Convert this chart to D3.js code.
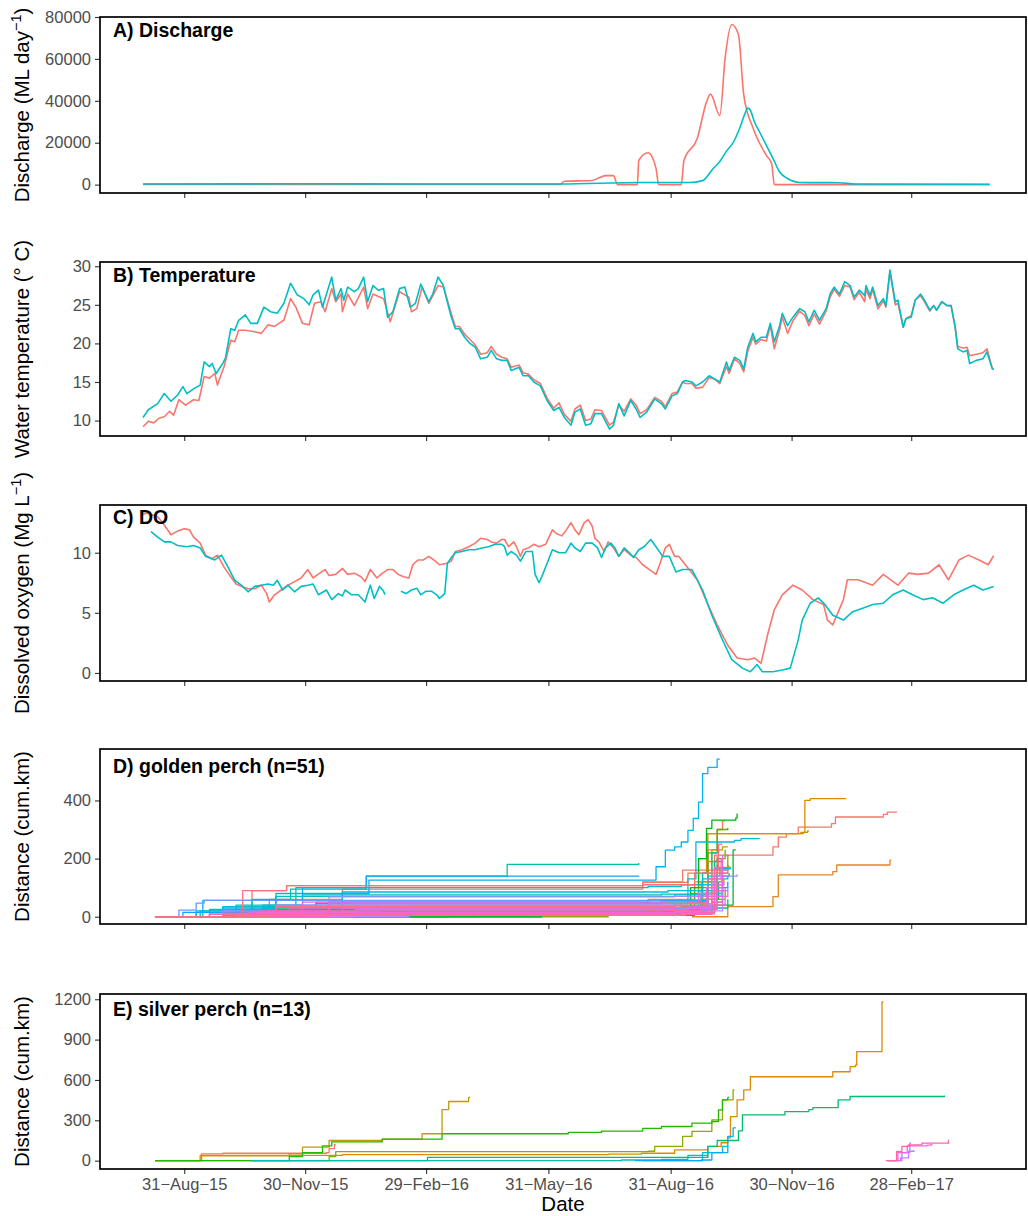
<!DOCTYPE html>
<html lang="en">
<head>
<meta charset="UTF-8">
<title>Discharge, temperature, DO and fish movement</title>
<script src="https://d3js.org/d3.v7.min.js"></script>
<style>
  body { margin: 0; background: #fff; font-family: "Liberation Sans", Arial, sans-serif; }
</style>
</head>
<body>
<div id="chart"></div>
<script>
// x values are days since 31 Jul 2015
const day0 = new Date(2015, 6, 31);

const xTickDates = ["2015-08-31", "2015-11-30", "2016-02-29", "2016-05-31", "2016-08-31", "2016-11-30", "2017-02-28"];

// A) discharge, two gauges
const discharge1 = [[0,100],[314,100],[317,1600],[338,2000],[344,3500],[348,4300],[354,4300],[357,0],[372,0],[373,11500],[380,15200],[386,7700],[388,0],[405,0],[407,11500],[417,22000],[424,39500],[427,43200],[434,33000],[438,60500],[443,76400],[448,71600],[452,42800],[459,27000],[469,14000],[473,10000],[475,0],[637,0]];
const discharge2 = [[0,300],[118,400],[208,300],[314,300],[374,1000],[411,1000],[421,1900],[429,7700],[434,11000],[439,16000],[444,20000],[449,27000],[453,34000],[455,36500],[457,35500],[460,30000],[464,25000],[468,20000],[474,12500],[479,6000],[485,2900],[494,1000],[524,900],[536,300],[637,200]];

// B) water temperature
const temp1 = [[0,9.2],[4,9.9],[8,9.7],[12,10.3],[16,10.5],[20,11.2],[23,10.7],[27,12.7],[32,12.0],[38,12.7],[42,12.6],[46,15.7],[50,15.5],[54,16.1],[56,14.6],[61,17.0],[66,20.4],[69,20.2],[72,21.7],[77,21.7],[84,21.5],[89,21.3],[94,22.4],[99,22.2],[104,22.8],[106,23.0],[111,25.8],[115,24.7],[120,22.6],[125,22.4],[129,25.2],[134,25.4],[137,24.1],[142,27.1],[145,25.4],[149,26.4],[150,24.1],[154,26.4],[159,24.9],[166,27.3],[169,24.5],[173,26.4],[181,25.8],[186,22.8],[193,26.7],[200,26.0],[202,24.1],[206,24.5],[210,27.3],[215,25.2],[222,27.5],[226,27.3],[228,26.2],[232,23.8],[235,22.2],[238,22.2],[242,21.2],[246,20.5],[250,19.8],[254,18.6],[259,18.8],[262,19.6],[266,18.6],[270,18.2],[274,18.0],[277,16.9],[283,17.2],[286,16.2],[290,16.0],[294,15.3],[299,14.8],[304,12.9],[309,11.6],[313,12.3],[317,10.8],[322,9.9],[325,11.5],[329,12.0],[333,10.0],[337,10.2],[340,11.4],[345,11.3],[351,9.4],[354,9.8],[358,12.0],[362,11.2],[367,12.8],[371,12.0],[374,10.9],[379,11.4],[385,13.0],[390,12.5],[393,11.8],[398,13.5],[402,13.7],[406,15.0],[408,14.8],[413,14.8],[416,14.2],[421,14.3],[426,15.6],[430,15.4],[434,14.8],[439,17.0],[441,16.1],[445,18.0],[449,17.4],[452,16.3],[455,19.0],[459,20.8],[461,19.9],[465,20.5],[469,20.3],[472,22.3],[475,19.3],[479,21.8],[481,23.4],[485,21.3],[489,22.9],[494,24.2],[498,23.6],[501,22.3],[505,23.8],[509,22.5],[514,24.2],[517,26.0],[520,27.0],[524,26.1],[528,27.5],[532,27.3],[535,25.7],[539,26.6],[543,25.4],[544,27.0],[547,25.8],[549,27.0],[553,24.5],[557,25.5],[559,24.7],[562,29.3],[566,25.0],[568,25.2],[572,22.1],[574,23.2],[578,23.6],[581,25.6],[585,26.2],[588,25.4],[592,24.2],[595,24.9],[597,24.3],[601,25.4],[605,24.9],[608,24.9],[611,22.3],[613,19.6],[617,19.4],[620,19.5],[622,18.4],[627,18.6],[632,18.8],[635,19.3],[639,16.8],[640,16.6]];
const temp2 = [[0,10.4],[4,11.4],[11,12.2],[16,13.5],[21,12.5],[26,13.3],[30,14.4],[33,13.5],[38,14.1],[43,14.6],[46,17.6],[50,17.0],[52,17.4],[55,16.1],[60,17.4],[62,18.1],[66,21.9],[69,21.7],[72,23.0],[77,23.7],[81,22.6],[86,22.6],[91,24.7],[96,24.1],[101,23.9],[106,25.2],[111,27.8],[116,26.3],[121,25.8],[125,25.0],[128,26.3],[132,26.9],[135,24.7],[142,28.6],[145,25.6],[149,27.1],[151,25.6],[154,27.3],[159,26.7],[162,27.1],[166,28.6],[169,25.4],[173,27.5],[177,26.9],[181,27.1],[184,23.4],[188,24.1],[193,27.1],[197,27.3],[201,24.7],[205,25.2],[209,27.7],[215,25.4],[218,26.4],[222,28.6],[226,27.5],[228,26.0],[232,23.4],[235,21.9],[238,21.9],[242,20.8],[246,20.0],[250,19.5],[254,18.0],[259,18.2],[262,19.1],[266,18.0],[270,17.8],[274,17.8],[277,16.5],[283,16.9],[286,15.8],[290,15.8],[294,15.0],[299,14.5],[304,12.6],[309,11.3],[313,11.7],[317,10.4],[322,9.4],[325,11.1],[329,11.5],[333,9.4],[337,9.6],[340,10.9],[345,10.9],[351,8.9],[354,9.4],[358,12.2],[362,10.6],[367,12.6],[371,11.5],[374,10.4],[379,11.1],[385,12.8],[390,12.2],[393,11.5],[398,13.2],[402,13.5],[406,15.0],[408,15.2],[413,15.0],[416,14.5],[421,15.0],[426,15.8],[430,15.4],[434,15.0],[439,17.6],[441,16.5],[445,18.2],[449,17.8],[452,16.7],[455,19.5],[459,21.3],[461,20.2],[465,20.8],[469,20.8],[472,22.6],[475,20.2],[479,22.3],[481,23.9],[485,22.3],[489,23.4],[494,24.5],[498,24.1],[501,22.8],[505,24.3],[509,23.0],[514,24.5],[517,26.4],[520,27.3],[524,26.4],[528,28.0],[532,27.5],[535,26.0],[539,26.9],[543,26.2],[544,27.5],[547,26.2],[549,27.3],[553,24.9],[557,25.8],[559,24.9],[562,29.5],[566,25.4],[568,25.6],[572,22.1],[574,23.2],[578,23.4],[581,25.6],[585,26.4],[588,25.6],[592,24.3],[595,24.9],[597,24.3],[601,25.4],[605,24.9],[608,24.9],[611,22.1],[613,19.3],[617,18.9],[620,19.1],[622,17.4],[627,17.8],[632,18.0],[635,18.9],[639,16.7],[640,16.6]];

// C) dissolved oxygen (null = logger gap)
const do1 = [[0,13.2],[3,13.3],[11,13.0],[16,12.3],[21,11.5],[26,11.8],[31,12.0],[35,11.9],[38,11.3],[43,10.8],[47,9.8],[52,9.5],[56,9.8],[61,8.8],[66,8.0],[70,7.4],[74,7.2],[79,7.0],[84,7.0],[89,7.3],[93,6.6],[95,5.9],[99,6.5],[104,6.9],[109,7.3],[114,7.6],[119,7.9],[124,8.6],[128,7.9],[133,8.3],[137,8.6],[140,8.1],[145,8.2],[150,8.7],[154,8.2],[159,8.3],[164,8.0],[167,7.6],[171,8.6],[176,7.9],[179,8.2],[184,8.6],[188,8.6],[192,8.2],[196,8.0],[200,7.9],[203,9.0],[207,9.4],[211,9.4],[215,9.7],[220,9.3],[223,9.0],[228,9.1],[232,9.3],[235,10.1],[240,10.25],[245,10.5],[250,10.8],[254,11.2],[259,11.1],[262,10.9],[266,10.8],[270,11.1],[272,11.1],[275,10.5],[279,10.9],[281,10.5],[284,9.7],[286,10.25],[290,10.4],[294,10.7],[298,10.5],[303,10.7],[308,11.9],[311,11.6],[315,11.4],[318,11.8],[322,12.5],[325,11.9],[328,11.5],[332,12.5],[335,12.75],[338,12.2],[340,11.2],[343,10.9],[347,10.1],[350,10.9],[354,10.4],[358,9.7],[362,10.25],[367,9.8],[371,9.6],[376,9.0],[381,8.6],[386,8.2],[389,9.1],[393,10.4],[396,10.7],[400,9.7],[403,9.7],[406,9.3],[417,7.75],[425,5.7],[432,4.0],[440,2.3],[447,1.25],[455,1.1],[460,1.25],[465,0.8],[470,3.2],[475,5.25],[481,6.5],[489,7.3],[496,6.9],[504,6.1],[512,5.7],[515,4.4],[519,4.0],[527,6.1],[530,7.75],[538,7.75],[549,7.3],[557,8.2],[568,7.3],[576,8.3],[583,8.2],[591,8.3],[599,9.0],[606,7.75],[614,9.4],[621,9.8],[629,9.4],[636,9.0],[640,9.75]];
const do2 = [[6,11.75],[11,11.3],[16,10.9],[21,10.9],[26,10.6],[33,10.5],[38,10.6],[43,10.4],[47,9.7],[54,9.4],[59,9.8],[64,8.8],[69,7.7],[74,7.3],[79,6.75],[84,7.2],[89,7.3],[94,7.4],[98,7.3],[101,7.7],[105,6.9],[109,7.3],[114,6.75],[119,7.2],[124,7.3],[128,7.4],[132,6.5],[138,6.9],[142,6.1],[147,6.6],[150,6.4],[152,6.9],[157,6.5],[162,6.5],[167,5.9],[171,7.3],[174,6.2],[178,7.2],[181,6.8],[182,6.5],[188,null],[194,6.8],[198,6.6],[202,6.9],[206,7.05],[209,6.5],[213,6.8],[217,6.8],[221,6.5],[223,6.2],[227,6.6],[229,9.1],[232,9.6],[235,10.0],[240,10.1],[245,10.25],[250,10.25],[255,10.4],[260,10.5],[265,10.7],[270,10.7],[272,10.5],[274,9.8],[277,10.1],[281,9.8],[284,9.3],[288,10.1],[293,10.1],[295,8.2],[298,7.5],[300,8.0],[304,9.1],[308,10.25],[313,10.0],[318,10.0],[322,10.8],[325,10.4],[329,10.1],[333,10.8],[338,10.8],[342,10.4],[345,9.6],[348,10.4],[352,10.8],[355,10.4],[358,9.7],[362,10.4],[366,10.0],[369,9.6],[373,10.25],[377,10.5],[382,11.1],[386,10.5],[391,9.7],[396,9.7],[401,8.4],[406,8.6],[413,8.6],[421,6.9],[428,4.8],[436,2.75],[443,1.1],[451,0.4],[457,0.1],[462,0.7],[466,0.1],[474,0.1],[481,0.25],[487,0.4],[493,2.75],[496,4.4],[502,5.8],[508,6.25],[513,5.7],[519,4.8],[527,4.4],[534,5.1],[542,5.4],[549,5.7],[557,5.8],[564,6.5],[572,6.9],[579,6.5],[587,6.1],[594,6.25],[602,5.8],[610,6.5],[617,6.9],[625,7.3],[632,6.9],[640,7.2]];

// D) golden perch, cumulative km per fish (step after)
const goldenTracks = [
  [[9,0],[82,90],[108,107],[376,120],[406,160],[430,212],[474,240],[478,274],[484,286],[493,308],[518,320],[521,343],[557,352],[560,360],[567,361]],
  [[9,0],[40,15],[95,60],[150,95],[376,118],[410,150],[425,230],[432,300],[436,330],[438,330]],
  [[9,0],[70,20],[130,50],[380,60],[415,120],[425,190],[432,210]],
  [[413,0],[436,0],[440,35],[474,69],[478,144],[519,155],[522,178],[562,195],[563,195]],
  [[9,0],[60,5],[200,12],[405,15],[412,80],[418,200],[425,286],[497,290],[498,400],[502,406],[529,406]],
  [[9,0],[100,10],[380,20],[420,60],[432,150],[440,180]],
  [[9,0],[150,8],[418,20],[421,150],[424,286],[495,290],[500,295],[501,295]],
  [[9,0],[110,30],[400,40],[425,90],[436,170],[441,175]],
  [[9,0],[200,5],[413,10],[420,120],[428,230],[436,240],[440,240]],
  [[20,0],[300,15],[415,30],[430,110],[437,130]],
  [[9,0],[250,25],[405,35],[421,80],[430,120],[435,125]],
  [[9,0],[350,8],[410,20],[428,60],[438,90]],
  [[9,0],[180,18],[420,25],[432,160],[440,210],[441,210]],
  [[9,0],[150,12],[418,15],[428,50],[436,90]],
  [[9,0],[230,6],[400,8],[420,40],[432,200],[438,230]],
  [[9,0],[120,20],[405,22],[415,100],[425,220],[432,300],[440,305]],
  [[9,0],[60,10],[405,15],[412,100],[418,200],[424,304],[428,332],[446,340],[447,355]],
  [[9,0],[300,5],[415,10],[428,40],[444,230],[446,230]],
  [[9,0],[160,15],[410,20],[425,80],[436,140],[441,150]],
  [[9,0],[90,30],[400,32],[420,60],[433,120]],
  [[9,0],[200,10],[410,12],[428,30],[440,60]],
  [[9,0],[80,25],[395,30],[418,90],[430,190],[436,200]],
  [[9,0],[130,45],[390,50],[425,120],[432,180]],
  [[9,0],[43,20],[82,60],[111,95],[168,140],[274,180],[373,185]],
  [[9,0],[70,40],[120,75],[390,78],[421,150],[428,220],[433,230]],
  [[9,0],[50,25],[100,70],[400,75],[425,140],[434,160]],
  [[9,0],[60,35],[115,100],[380,104],[405,110],[430,165],[442,170]],
  [[9,0],[90,40],[400,45],[410,130],[416,257],[445,263],[450,269],[464,269]],
  [[9,0],[40,20],[150,85],[395,90],[421,130],[440,140]],
  [[9,0],[80,20],[380,25],[420,70],[436,110]],
  [[9,0],[60,30],[100,80],[170,126],[383,126],[386,172],[393,229],[400,240],[405,257],[410,297],[414,338],[418,394],[421,492],[425,514],[432,542],[434,542]],
  [[9,0],[45,56],[120,100],[168,140],[373,142]],
  [[9,0],[30,15],[140,50],[390,55],[425,100],[440,120]],
  [[9,0],[100,10],[400,14],[430,70],[436,80]],
  [[9,0],[27,23],[40,47],[46,56],[390,58],[420,80],[436,100]],
  [[9,0],[150,30],[410,35],[432,90],[440,100]],
  [[9,0],[60,20],[140,68],[400,70],[430,140],[447,145]],
  [[9,0],[200,15],[415,20],[436,160],[440,165]],
  [[9,0],[100,40],[405,45],[428,120],[436,135]],
  [[9,0],[50,10],[390,12],[425,40],[438,60]],
  [[9,0],[160,25],[410,28],[432,110],[437,120]],
  [[9,0],[80,15],[400,18],[425,70],[440,90]],
  [[9,0],[120,50],[395,52],[418,80],[430,170],[436,175]],
  [[9,0],[70,5],[408,8],[428,50],[436,60]],
  [[9,0],[110,30],[400,33],[424,100],[436,210],[440,215]],
  [[9,0],[60,12],[405,15],[430,90],[438,100]],
  [[9,0],[140,45],[410,48],[425,130],[435,200]],
  [[9,0],[90,20],[390,22],[420,60],[432,150],[440,155]],
  [[9,0],[50,8],[412,10],[430,40],[437,45]],
  [[9,0],[100,35],[400,38],[428,160],[433,250],[436,250]],
  [[9,0],[75,90],[108,107],[376,110],[415,150],[432,170]]
];

// E) silver perch
const silverTracks = [
  [[9,0],[44,50],[60,55],[138,60],[140,90],[144,120],[145,120]],
  [[9,0],[43,40],[150,45],[350,48],[375,55],[400,80],[425,106],[435,133],[440,170],[442,328],[446,328],[447,452],[451,452],[452,526],[455,526],[457,624],[516,624],[519,661],[530,661],[532,699],[536,710],[537,810],[555,810],[556,1180],[557,1180]],
  [[9,0],[44,35],[110,50],[120,100],[140,150],[180,160],[210,200],[225,380],[230,440],[245,470],[246,470]],
  [[9,0],[140,30],[145,67],[380,70],[385,106],[406,180],[413,217],[428,303],[436,452],[444,526],[445,526]],
  [[9,0],[110,30],[120,60],[135,110],[142,140],[180,160],[225,200],[320,210],[345,220],[376,240],[390,254],[413,279],[428,291],[433,378],[436,452],[440,470],[441,470]],
  [[82,0],[213,0],[214,24],[400,24],[425,106],[432,150],[448,222],[451,340],[483,365],[501,380],[504,395],[521,395],[523,452],[530,452],[532,477],[603,485]],
  [[82,0],[360,5],[390,10],[410,40],[425,80]],
  [[376,0],[415,0],[421,59],[436,106],[440,110]],
  [[370,0],[420,5],[428,60],[440,180],[444,244],[446,244]],
  [[560,0],[571,60],[577,130],[578,130]],
  [[562,0],[570,20],[576,70],[580,80]],
  [[560,0],[568,60],[575,110],[590,115],[593,120],[594,120]],
  [[559,0],[567,69],[571,106],[576,117],[586,130],[599,130],[606,156]]
];

// ggplot-style hue palette (HCL in CIE-LUV)
function hcl2hex(h, c, l) {
  const hr = h * Math.PI / 180;
  const U = c * Math.cos(hr), V = c * Math.sin(hr);
  const Xn = 95.047, Yn = 100, Zn = 108.883;
  const den = Xn + 15 * Yn + 3 * Zn;
  const un = 4 * Xn / den, vn = 9 * Yn / den;
  const Y = l > 8 ? Yn * Math.pow((l + 16) / 116, 3) : Yn * l / 903.3;
  const u = U / (13 * l) + un, v = V / (13 * l) + vn;
  const X = 9 * Y * u / (4 * v);
  const Z = 3 * Y / v - X / 3 - 5 * Y;
  const x = X / 100, y = Y / 100, z = Z / 100;
  const lin = [
    3.240479 * x - 1.537150 * y - 0.498535 * z,
    -0.969256 * x + 1.875992 * y + 0.041556 * z,
    0.055648 * x - 0.204043 * y + 1.057311 * z
  ];
  const ch = lin.map(t => {
    const g = t <= 0.0031308 ? 12.92 * t : 1.055 * Math.pow(t, 1 / 2.4) - 0.055;
    return Math.round(Math.max(0, Math.min(1, g)) * 255);
  });
  return d3.rgb(ch[0], ch[1], ch[2]).formatHex();
}
const hue = (i, n) => hcl2hex(15 + 360 * i / n, 100, 65);

const W = 1028, H = 1216;
const left = 100, right = 1026;
const dt = d => d3.timeDay.offset(day0, d);
const parse = d3.timeParse("%Y-%m-%d");
const fmt = d3.timeFormat("%d-%b-%y");

const x = d3.scaleTime()
  .domain([new Date(2015, 5, 29), new Date(2017, 4, 25)])
  .range([100.5, 1025.5]);

const pair = [hue(0, 2), hue(1, 2)];

const panels = [
  { key: "A", top: 17, bottom: 193, domain: [-4000, 80000], ticks: [0, 20000, 40000, 60000, 80000],
    title: "A) Discharge", titleY: 37, ylab: ["Discharge (ML day", "\u22121", ")"], curve: d3.curveMonotoneX, lw: 1.6,
    series: [{ values: discharge1, color: pair[0] }, { values: discharge2, color: pair[1] }] },
  { key: "B", top: 262, bottom: 436, domain: [8.0, 30.55], ticks: [10, 15, 20, 25, 30],
    title: "B) Temperature", titleY: 282, ylab: ["Water temperature (\u00b0 C)"], curve: d3.curveLinear, lw: 1.6,
    series: [{ values: temp1, color: pair[0] }, { values: temp2, color: pair[1] }] },
  { key: "C", top: 505, bottom: 681, domain: [-0.67, 13.97], ticks: [0, 5, 10],
    title: "C) DO", titleY: 523.5, ylab: ["Dissolved oxygen (Mg L", "\u22121", ")"], curve: d3.curveLinear, lw: 1.6,
    series: [{ values: do1, color: pair[0] }, { values: do2, color: pair[1] }] },
  { key: "D", top: 749, bottom: 924, domain: [-25, 577], ticks: [0, 200, 400],
    title: "D) golden perch (n=51)", titleY: 773, ylab: ["Distance (cum.km)"], curve: d3.curveStepAfter, lw: 1.3,
    series: goldenTracks.map((t, i) => ({ values: t, color: hue(i, goldenTracks.length) })) },
  { key: "E", top: 994, bottom: 1169, domain: [-62, 1239], ticks: [0, 300, 600, 900, 1200],
    title: "E) silver perch (n=13)", titleY: 1016, ylab: ["Distance (cum.km)"], curve: d3.curveStepAfter, lw: 1.3,
    series: silverTracks.map((t, i) => ({ values: t, color: hue(i, silverTracks.length) })) }
];

const svg = d3.select("#chart").append("svg")
  .attr("width", W).attr("height", H)
  .style("font-family", "'Liberation Sans', Arial, sans-serif");

panels.forEach((p, pi) => {
  const y = d3.scaleLinear().domain(p.domain).range([p.bottom, p.top]);
  const g = svg.append("g");

  svg.append("clipPath").attr("id", "clip" + p.key)
    .append("rect").attr("x", left).attr("y", p.top)
    .attr("width", right - left).attr("height", p.bottom - p.top);

  const line = d3.line()
    .defined(d => d[1] != null)
    .x(d => x(dt(d[0])))
    .y(d => y(d[1]))
    .curve(p.curve);

  g.append("g").attr("clip-path", `url(#clip${p.key})`)
    .selectAll("path").data(p.series).join("path")
    .attr("d", s => line(s.values))
    .attr("fill", "none")
    .attr("stroke", s => s.color)
    .attr("stroke-width", p.lw)
    .attr("stroke-linejoin", "round");

  // y axis
  const ya = g.append("g").attr("transform", `translate(${left},0)`)
    .call(d3.axisLeft(y).tickValues(p.ticks).tickSize(5).tickPadding(4).tickFormat(d3.format("d")));
  ya.select(".domain").remove();
  ya.selectAll("line").attr("stroke", "#333").attr("stroke-width", 1.1);
  ya.selectAll("text").attr("fill", "#4d4d4d").style("font-size", "16.5px").style("font-family", "'Liberation Sans', Arial, sans-serif");

  // x axis (labels on the last panel only)
  const last = pi === panels.length - 1;
  const xa = g.append("g").attr("transform", `translate(0,${p.bottom})`)
    .call(d3.axisBottom(x).tickValues(xTickDates.map(parse)).tickSize(5).tickPadding(4)
      .tickFormat(d => last ? fmt(d).replace(/-/g, "\u2212") : ""));
  xa.select(".domain").remove();
  xa.selectAll("line").attr("stroke", "#333").attr("stroke-width", 1.1);
  xa.selectAll("text").attr("fill", "#4d4d4d").style("font-size", "16.5px").style("font-family", "'Liberation Sans', Arial, sans-serif");

  // panel frame
  g.append("rect")
    .attr("x", left).attr("y", p.top)
    .attr("width", right - left).attr("height", p.bottom - p.top)
    .attr("fill", "none").attr("stroke", "#000").attr("stroke-width", 1.7);

  // panel title
  g.append("text")
    .attr("x", 113).attr("y", p.titleY)
    .style("font-size", "19.5px").style("font-weight", "bold")
    .text(p.title);

  // y axis title
  const cy = (p.top + p.bottom) / 2;
  const t = g.append("text")
    .attr("transform", `translate(22,${cy}) rotate(-90)`)
    .attr("text-anchor", "middle")
    .attr("dy", "0.35em")
    .style("font-size", "20.5px");
  t.append("tspan").text(p.ylab[0]);
  if (p.ylab.length > 1) {
    t.append("tspan").attr("dy", -8).style("font-size", "14.5px").text(p.ylab[1]);
    t.append("tspan").attr("dy", 8).text(p.ylab[2]);
  }
});

svg.append("text")
  .attr("x", (left + right) / 2).attr("y", 1211)
  .attr("text-anchor", "middle")
  .style("font-size", "20.5px")
  .text("Date");
</script>
</body>
</html>
